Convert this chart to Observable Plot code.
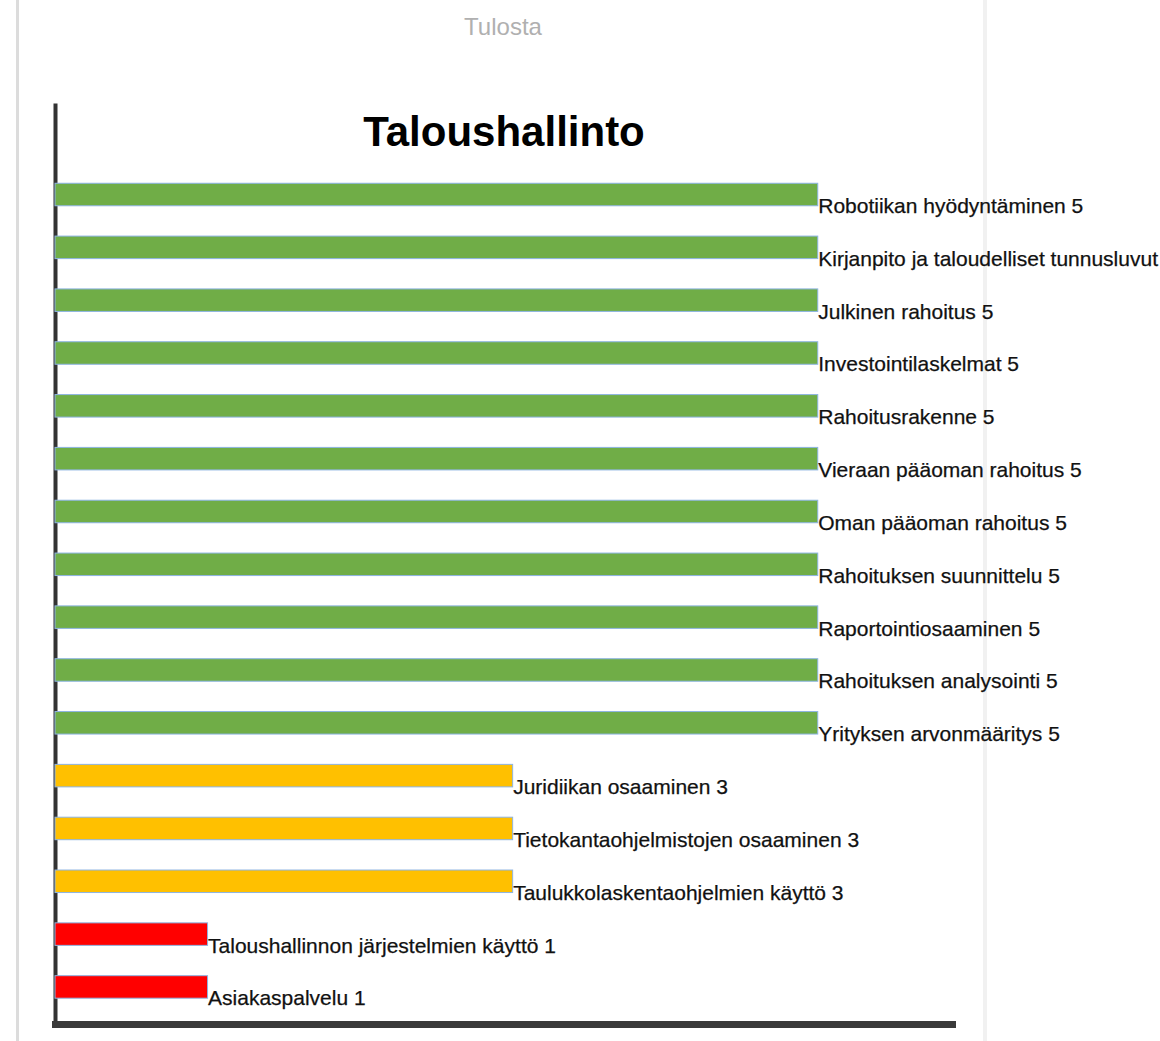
<!DOCTYPE html>
<html>
<head>
<meta charset="utf-8">
<script src="https://cdn.jsdelivr.net/npm/d3@7"></script>
<script src="https://cdn.jsdelivr.net/npm/@observablehq/plot@0.6"></script>
<style>
  html, body { margin: 0; padding: 0; background: #fff; }
  #page { position: relative; width: 1160px; height: 1041px; overflow: hidden; font-family: "Liberation Sans", Arial, sans-serif; }
  #borderL { position: absolute; left: 16px; top: 0; width: 3px; height: 1041px; background: #dcdcdc; }
  #borderR { position: absolute; left: 983px; top: 0; width: 4px; height: 1041px; background: #f1f1f1; }
  #tulosta { position: absolute; left: 0; width: 1006px; top: 15px; text-align: center; font-size: 24px; line-height: 24px; color: #b0b0b0; }
  #title { position: absolute; left: 0; width: 1008px; top: 111px; text-align: center; font-size: 42px; line-height: 42px; font-weight: bold; color: #000; }
  #chart { position: absolute; left: 0; top: 0; }
</style>
</head>
<body>
<div id="page">
  <div id="borderL"></div>
  <div id="borderR"></div>
  <div id="chart"></div>
  <div id="tulosta">Tulosta</div>
  <div id="title">Taloushallinto</div>
</div>
<script>
const categories = [
  "Robotiikan hyödyntäminen",
  "Kirjanpito ja taloudelliset tunnusluvut",
  "Julkinen rahoitus",
  "Investointilaskelmat",
  "Rahoitusrakenne",
  "Vieraan pääoman rahoitus",
  "Oman pääoman rahoitus",
  "Rahoituksen suunnittelu",
  "Raportointiosaaminen",
  "Rahoituksen analysointi",
  "Yrityksen arvonmääritys",
  "Juridiikan osaaminen",
  "Tietokantaohjelmistojen osaaminen",
  "Taulukkolaskentaohjelmien käyttö",
  "Taloushallinnon järjestelmien käyttö",
  "Asiakaspalvelu"
];
const values = [5, 5, 5, 5, 5, 5, 5, 5, 5, 5, 5, 3, 3, 3, 1, 1];
const levelColors = { 5: "#70ad47", 3: "#ffc000", 1: "#ff0000" };

const data = categories.map((c, i) => ({ name: c, value: values[i] }));

const chart = Plot.plot({
  width: 1160,
  height: 1041,
  marginLeft: 55,
  marginRight: 208,
  marginTop: 105,
  marginBottom: 17,
  style: { background: "transparent", overflow: "visible" },
  x: { domain: [0, 5.88], axis: null },
  y: { domain: categories, axis: null, paddingInner: 0.574, paddingOuter: 0.985, align: 0.752, round: false },
  marks: [
    Plot.frame({ anchor: "left", stroke: "#333", strokeWidth: 4 }),
    Plot.frame({ anchor: "bottom", stroke: "#3a3a3a", strokeWidth: 7 }),
    Plot.barX(data, {
      x: "value",
      y: "name",
      fill: d => levelColors[d.value],
      stroke: "#8db4e2",
      strokeWidth: 1
    }),
    Plot.text(data, {
      x: "value",
      y: "name",
      text: d => `${d.name} ${d.value}`,
      textAnchor: "start",
      lineAnchor: "bottom",
      dy: 18,
      fontSize: 21,
      fill: "#111",
      stroke: "#111",
      strokeWidth: 0.25,
      fontFamily: "Liberation Sans, Arial, sans-serif"
    })
  ]
});
document.getElementById("chart").appendChild(chart);
</script>
</body>
</html>
